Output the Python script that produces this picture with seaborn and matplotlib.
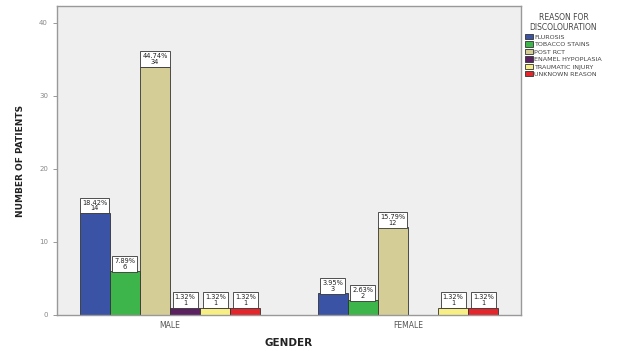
import matplotlib
matplotlib.use("Agg")
import matplotlib.pyplot as plt
import seaborn as sns
import pandas as pd

genders = ["MALE", "FEMALE"]
reasons = ["FLUROSIS", "TOBACCO STAINS", "POST RCT", "ENAMEL HYPOPLASIA",
           "TRAUMATIC INJURY", "UNKNOWN REASON"]
male_counts = [14, 6, 34, 1, 1, 1]
female_counts = [3, 2, 12, None, 1, 1]
male_pct = ["18.42%", "7.89%", "44.74%", "1.32%", "1.32%", "1.32%"]
female_pct = ["3.95%", "2.63%", "15.79%", None, "1.32%", "1.32%"]
colors = ["#3A53A4", "#3DB54A", "#D4CD96", "#5B2160", "#F7EE86", "#E3262B"]

rows = []
for g, counts, pcts in [("MALE", male_counts, male_pct), ("FEMALE", female_counts, female_pct)]:
    for r, c, p in zip(reasons, counts, pcts):
        if c is not None:
            rows.append({"gender": g, "reason": r, "count": c, "pct": p})
df = pd.DataFrame(rows)

sns.set_theme(style="white")
plt.rcParams["font.family"] = ["DejaVu Sans"]

fig = plt.figure(figsize=(6.35, 3.51), dpi=100)
ax = fig.add_axes([0.0898, 0.1026, 0.7307, 0.8804])
ax.set_facecolor("#EFEFEF")

sns.barplot(data=df, x="gender", y="count", hue="reason", order=genders,
            hue_order=reasons, palette=colors, width=0.76, dodge=True,
            saturation=1, edgecolor="#333333", linewidth=0.6,
            errorbar=None, ax=ax)

# value labels: percentage and count in a white box on top of each bar
for container, reason in zip(ax.containers, reasons):
    for bar in container:
        h = bar.get_height()
        if h != h or h <= 0:
            continue
        x = bar.get_x() + bar.get_width() / 2
        g = genders[int(round(x))]
        rec = df[(df["reason"] == reason) & (df["gender"] == g)].iloc[0]
        ax.text(x, h + 0.2, f"{rec['pct']}\n{int(rec['count'])}",
                ha="center", va="bottom", fontsize=4.8, color="#222222",
                linespacing=0.95,
                bbox=dict(boxstyle="square,pad=0.3", fc="white",
                          ec="#333333", lw=0.6))

ax.set_xlim(-0.475, 1.475)
ax.set_ylim(0, 42.3)
ax.set_yticks([0, 10, 20, 30, 40])
ax.tick_params(axis="y", labelsize=5, colors="#888888", length=3,
               direction="out", left=True, width=0.6)
ax.tick_params(axis="x", labelsize=5.5, colors="#555555", length=0, pad=4)
for s in ax.spines.values():
    s.set_color("#999999")
    s.set_linewidth(1.0)

ax.set_xlabel("GENDER", fontsize=7.5, fontweight="bold", color="#222222", labelpad=6)
ax.set_ylabel("NUMBER OF PATIENTS", fontsize=6.5, fontweight="bold",
              color="#222222", labelpad=10)

leg = ax.legend(title="REASON FOR\nDISCOLOURATION", loc="upper left",
                bbox_to_anchor=(1.0, 0.99), frameon=False, fontsize=4.6,
                title_fontsize=5.5, handlelength=1.2, handleheight=0.9,
                handletextpad=0.3, labelspacing=0.25, borderaxespad=0.2,
                alignment="center")
leg.get_title().set_color("#444444")
leg.get_title().set_multialignment("center")
for t in leg.get_texts():
    t.set_color("#444444")

fig.savefig("out.png", dpi=100, facecolor="white")
